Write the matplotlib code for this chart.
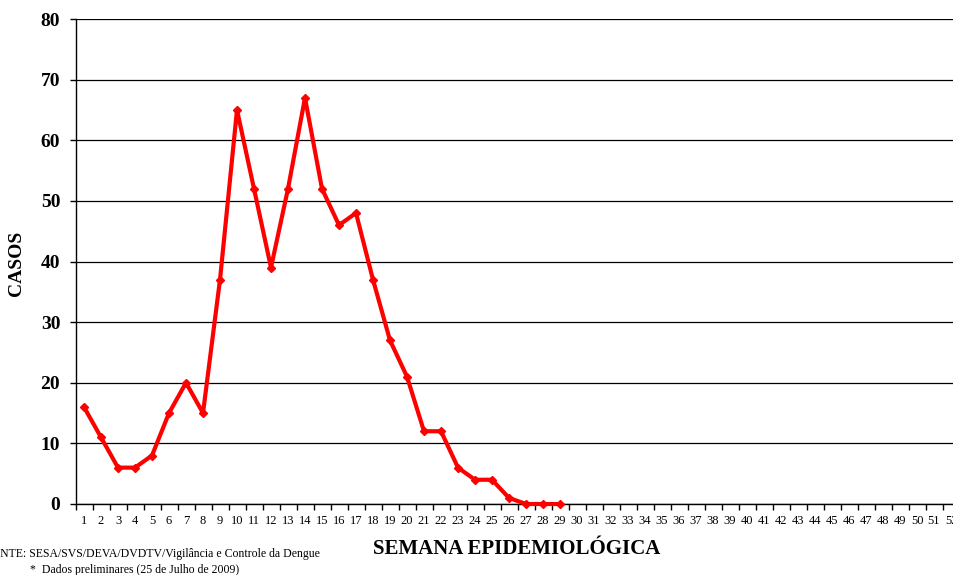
import matplotlib
matplotlib.use("Agg")
import matplotlib.pyplot as plt

weeks = list(range(1, 53))
cases = [16, 11, 6, 6, 8, 15, 20, 15, 37, 65, 52, 39, 52, 67, 52, 46, 48, 37, 27, 21,
         12, 12, 6, 4, 4, 1, 0, 0, 0]
yticks = [0, 10, 20, 30, 40, 50, 60, 70, 80]

plt.rcParams['font.family'] = ['Liberation Serif', 'DejaVu Serif']

W, H = 954, 575
fig = plt.figure(figsize=(W / 100, H / 100), dpi=100)
left, right, bottom, top = 75.5, 959.5, 504, 19
ax = fig.add_axes([left / W, (H - bottom) / H, (right - left) / W, (bottom - top) / H])

ax.plot(weeks[:len(cases)], cases, color='#ff0000', lw=3, marker='D', ms=4.5,
        markeredgecolor='#ff0000', zorder=3, clip_on=False)

ax.set_xlim(0.5, 52.5)
ax.set_ylim(0, 80)
ax.set_yticks(yticks)
ax.set_yticklabels([str(v) for v in yticks], fontsize=14, fontweight='bold')
ax.set_xticks(weeks)
ax.set_xticklabels([str(w) for w in weeks], fontsize=9)
ax.set_xticks([w + 0.5 for w in range(0, 53)], minor=True)
ax.tick_params(axis='x', which='major', length=0, pad=8)
ax.tick_params(axis='x', which='minor', length=4, direction='out', width=1)
ax.tick_params(axis='y', length=4, direction='out', width=1, pad=7)

ax.grid(axis='y', color='black', lw=0.9)
ax.set_axisbelow(True)
for s in ['top', 'right']:
    ax.spines[s].set_visible(False)
ax.spines['left'].set_linewidth(1)
ax.spines['bottom'].set_linewidth(1)

fig.text(17 / W, 1 - 263 / H, 'CASOS', rotation=90, ha='center', va='center',
         fontsize=14, fontweight='bold')
fig.text(517 / W, 1 - 549 / H, 'SEMANA EPIDEMIOLÓGICA', ha='center', va='center',
         fontsize=15, fontweight='bold')
fig.text(-15 / W, 1 - 554 / H, 'FONTE: SESA/SVS/DEVA/DVDTV/Vigilância e Controle da Dengue',
         ha='left', va='center', fontsize=8.5)
fig.text(30 / W, 1 - 570 / H, '*  Dados preliminares (25 de Julho de 2009)',
         ha='left', va='center', fontsize=8.5)

fig.savefig('out.png', dpi=100)
